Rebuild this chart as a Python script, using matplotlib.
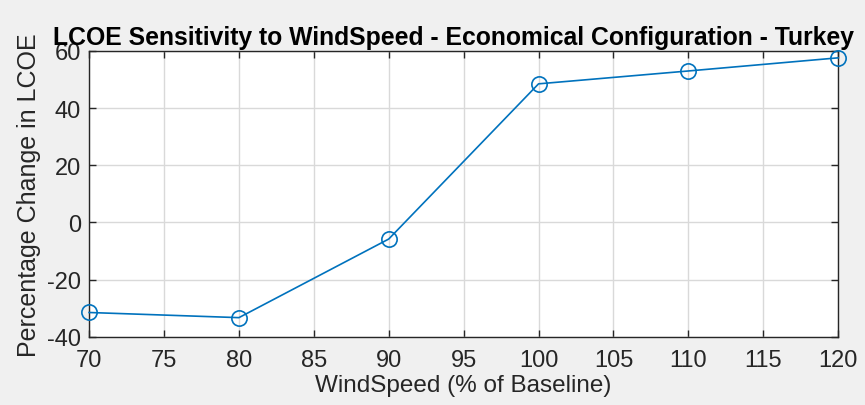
import matplotlib
matplotlib.use("Agg")
import matplotlib.pyplot as plt

# --- Data ---
wind_speed = [70, 80, 90, 100, 110, 120]
lcoe_change = [-31.5, -33.3, -5.8, 48.5, 53.0, 57.6]
x_ticks = [70, 75, 80, 85, 90, 95, 100, 105, 110, 115, 120]
y_ticks = [-40, -20, 0, 20, 40, 60]

plt.rcParams['font.family'] = ['Liberation Sans', 'DejaVu Sans']
plt.rcParams['axes.unicode_minus'] = False

fig = plt.figure(figsize=(8.65, 4.06), dpi=100, facecolor='#f0f0f0')
ax = fig.add_axes([0.103, 0.168, 0.866, 0.704])
ax.set_facecolor('white')

ax.plot(wind_speed, lcoe_change, color='#0072BD', lw=1.2,
        marker='o', ms=11, mfc='none', mec='#0072BD', mew=1.2, clip_on=False, zorder=3)

ax.set_xlim(70, 120)
ax.set_ylim(-40, 60)
ax.set_xticks(x_ticks)
ax.set_yticks(y_ticks)
ax.grid(True, color='#d9d9d9', lw=1.0)
ax.set_axisbelow(True)

for s in ax.spines.values():
    s.set_color('#262626')
    s.set_linewidth(1.0)
ax.tick_params(direction='in', length=5, width=1.0, color='#262626',
               top=True, right=True, labelsize=17, labelcolor='#262626')
ax.tick_params(axis='x', pad=9)
ax.tick_params(axis='y', pad=6)

ax.set_xlabel('WindSpeed (% of Baseline)', fontsize=17.5, color='#262626', labelpad=2)
ax.set_ylabel('Percentage Change in LCOE', fontsize=18, color='#262626', labelpad=4)
ax.set_title('LCOE Sensitivity to WindSpeed - Economical Configuration - Turkey',
             fontsize=17.8, fontweight='bold', color='black', pad=5, x=0.487)

fig.savefig('out.png', dpi=100, facecolor=fig.get_facecolor())
